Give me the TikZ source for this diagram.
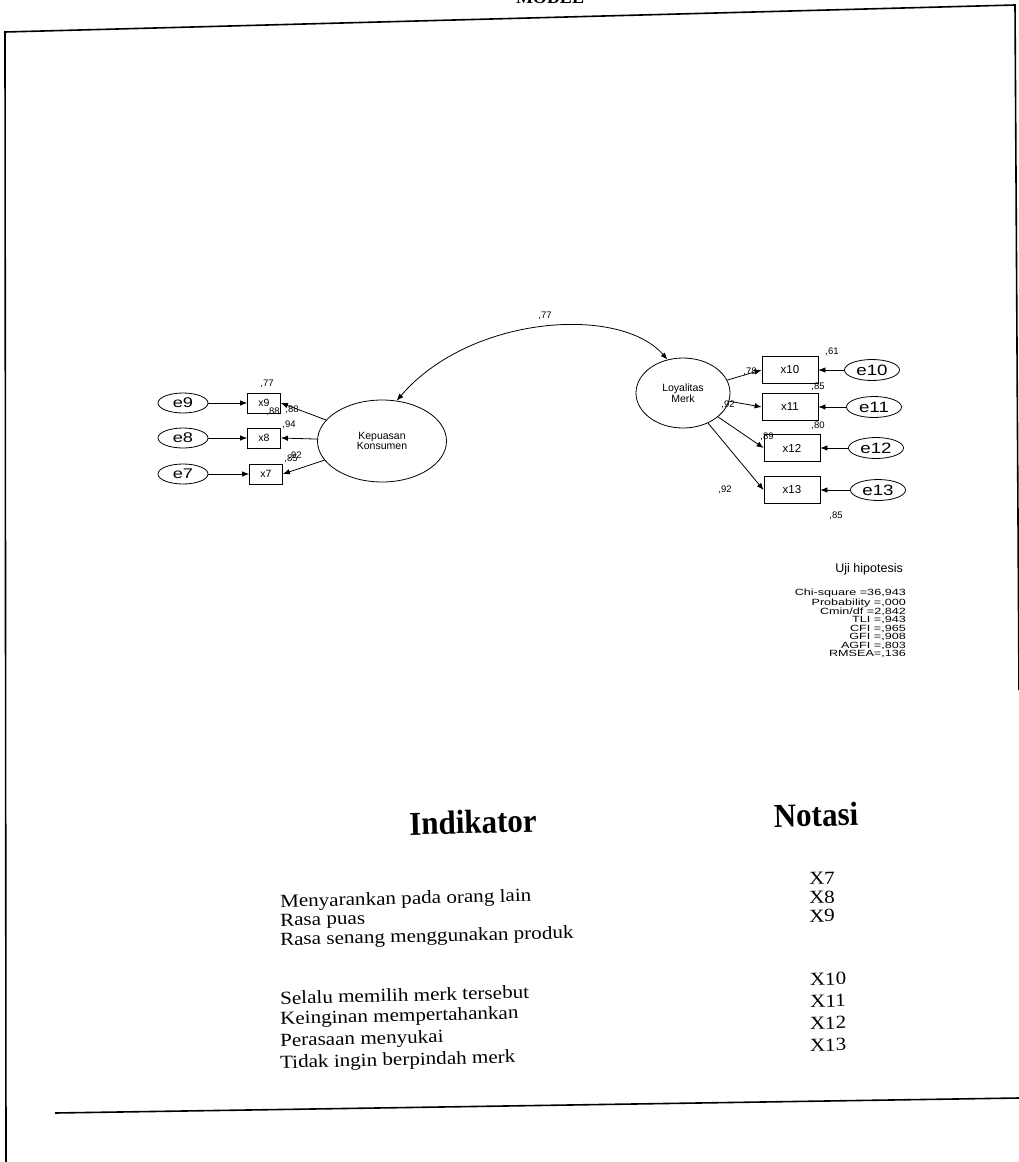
\documentclass[tikz,border=0pt]{standalone}
\usepackage{graphicx}
\usepackage{fontspec}
\setmainfont{Liberation Serif}
\newfontfamily\arialf{Liberation Sans}
\usetikzlibrary{arrows.meta,shapes.geometric}
\newcommand\stretchx[2]{\scalebox{#1}[1]{#2}}
\begin{document}
\begin{tikzpicture}[x=1pt,y=-1pt,
  lat/.style={ellipse,draw,line width=0.8pt,inner sep=0pt,align=center,font=\arialf\fontsize{10.5}{10.5}\selectfont},
  errl/.style={ellipse,draw,line width=0.8pt,inner sep=0pt,minimum width=50pt,minimum height=20pt,font=\arialf\fontsize{14}{14}\selectfont},
  errr/.style={ellipse,draw,line width=0.8pt,inner sep=0pt,minimum width=55pt,minimum height=21pt,font=\arialf\fontsize{15}{15}\selectfont},
  obsl/.style={rectangle,draw,line width=0.8pt,inner sep=0pt,minimum width=33pt,minimum height=20pt,font=\arialf\fontsize{10.5}{10.5}\selectfont},
  obsr/.style={rectangle,draw,line width=0.8pt,inner sep=0pt,minimum width=56pt,minimum height=27pt,font=\arialf\fontsize{11.5}{11.5}\selectfont},
  est/.style={inner sep=0pt,font=\arialf\fontsize{9.5}{9.5}\selectfont},
  arr/.style={-{Latex[length=7pt,width=5.5pt]},line width=0.8pt},
  arrb/.style={{Latex[length=7pt,width=5.5pt]}-{Latex[length=7pt,width=5.5pt]},line width=0.8pt},
  frame/.style={line width=1.6pt},
  row/.style={anchor=west,inner sep=0pt,rotate=1.4,font=\fontsize{18.5}{18.5}\selectfont},
  nota/.style={inner sep=0pt,rotate=1.4,font=\fontsize{18.5}{18.5}\selectfont},
  head/.style={inner sep=0pt,rotate=1.4,font=\bfseries\fontsize{31}{31}\selectfont}]
\useasboundingbox (0,0) rectangle (1019,1162);
\fill[white] (0,0) rectangle (1019,1162);
% frame
\draw[frame] (6,1163) -- (5,32) -- (1015,5) -- (1019,690);
\draw[frame] (55,1113) -- (1019,1098);
\node[anchor=base,inner sep=0pt,font=\bfseries\fontsize{18}{18}\selectfont] (hdr) at (550,3) {MODEL};
% left measurement model
\node[lat,minimum width=129pt,minimum height=82pt] (kep) at (382,441) {Kepuasan\\Konsumen};
\node[obsl] (x9) at (264,403) {x9};
\node[obsl] (x8) at (264,438) {x8};
\node[obsl] (x7) at (266,474) {x7};
\node[errl] (e9) at (183,403) {\stretchx{1.3}{e9}};
\node[errl] (e8) at (183,438) {\stretchx{1.3}{e8}};
\node[errl] (e7) at (183,474) {\stretchx{1.3}{e7}};
\draw[arr] (e9) -- (x9);
\draw[arr] (e8) -- (x8);
\draw[arr] (e7) -- (x7);
\draw[arr] (kep) -- (x9.east);
\draw[arr] (kep) -- (x8.east);
\draw[arr] (kep) -- (x7.east);
\node[est] (r9) at (267,384) {,77};
\node[est] (l9) at (273,412) {,88};
\node[est] (r8) at (292,410) {,88};
\node[est] (l8) at (289,425) {,94};
\node[est] (r7) at (291,459) {,85};
\node[est] (l7) at (295,456) {,92};
% right measurement model
\node[lat,minimum width=94pt,minimum height=70pt] (loy) at (683,393) {Loyalitas\\Merk};
\node[obsr] (x10) at (790,370) {x10};
\node[obsr] (x11) at (790,407) {x11};
\node[obsr] (x12) at (792,448) {x12};
\node[obsr] (x13) at (792,490) {x13};
\node[errr] (e10) at (872,370) {\stretchx{1.25}{e10}};
\node[errr] (e11) at (874,407) {\stretchx{1.25}{e11}};
\node[errr] (e12) at (876,448) {\stretchx{1.25}{e12}};
\node[errr] (e13) at (878,490) {\stretchx{1.25}{e13}};
\draw[arr] (e10) -- (x10);
\draw[arr] (e11) -- (x11);
\draw[arr] (e12) -- (x12);
\draw[arr] (e13) -- (x13);
\draw[arr] (loy) -- (x10.west);
\draw[arr] (loy) -- (x11.west);
\draw[arr] (loy) -- (x12.west);
\draw[arr] (loy) -- (x13.west);
\node[est] (l10) at (750,372) {,78};
\node[est] (r10) at (832,352) {,61};
\node[est] (l11) at (728,405) {,92};
\node[est] (r11) at (818,387) {,85};
\node[est] (r12) at (818,426) {,80};
\node[est] (l12) at (767,437) {,89};
\node[est] (l13) at (725,490) {,92};
\node[est] (r13) at (836,516) {,85};
% covariance
\draw[arrb] (kep.70) .. controls (470,315) and (620,305) .. (loy.115);
\node[est] (cov) at (545,316) {,77};
% fit statistics
\node[anchor=east,inner sep=0pt,font=\arialf\fontsize{12.5}{12.5}\selectfont] (uji) at (903,569) {Uji hipotesis};
\node[anchor=north east,align=right,inner sep=0pt,font=\arialf\fontsize{9}{7.4}\selectfont] (fit) at (906,589)
 {\stretchx{1.4}{Chi-square =36,943}\\\stretchx{1.4}{Probability =,000}\\\stretchx{1.4}{Cmin/df =2,842}\\\stretchx{1.4}{TLI =,943}\\\stretchx{1.4}{CFI =,965}\\\stretchx{1.4}{GFI =,908}\\\stretchx{1.4}{AGFI =,803}\\\stretchx{1.4}{RMSEA=,136}};
% table
\node[head] (hind) at (473,822) {\scalebox{1}[1.08]{Indikator}};
\node[head] (hnot) at (816,815) {\scalebox{1}[1.08]{Notasi}};
\node[row] (t1) at (280,903) {\stretchx{1.14}{Menyarankan pada orang lain}};
\node[row] (t2) at (280,922) {\stretchx{1.14}{Rasa puas}};
\node[row] (t3) at (280,941) {\stretchx{1.14}{Rasa senang menggunakan produk}};
\node[row] (t4) at (280,998) {\stretchx{1.14}{Selalu memilih merk tersebut}};
\node[row] (t5) at (280,1020) {\stretchx{1.14}{Keinginan mempertahankan}};
\node[row] (t6) at (280,1042) {\stretchx{1.14}{Perasaan menyukai}};
\node[row] (t7) at (280,1064) {\stretchx{1.14}{Tidak ingin berpindah merk}};
\node[nota] (n1) at (822,878) {\stretchx{1.14}{X7}};
\node[nota] (n2) at (822,897) {\stretchx{1.14}{X8}};
\node[nota] (n3) at (822,916) {\stretchx{1.14}{X9}};
\node[nota] (n4) at (828,979) {\stretchx{1.14}{X10}};
\node[nota] (n5) at (828,1001) {\stretchx{1.14}{X11}};
\node[nota] (n6) at (828,1023) {\stretchx{1.14}{X12}};
\node[nota] (n7) at (828,1045) {\stretchx{1.14}{X13}};
\end{tikzpicture}
\end{document}
